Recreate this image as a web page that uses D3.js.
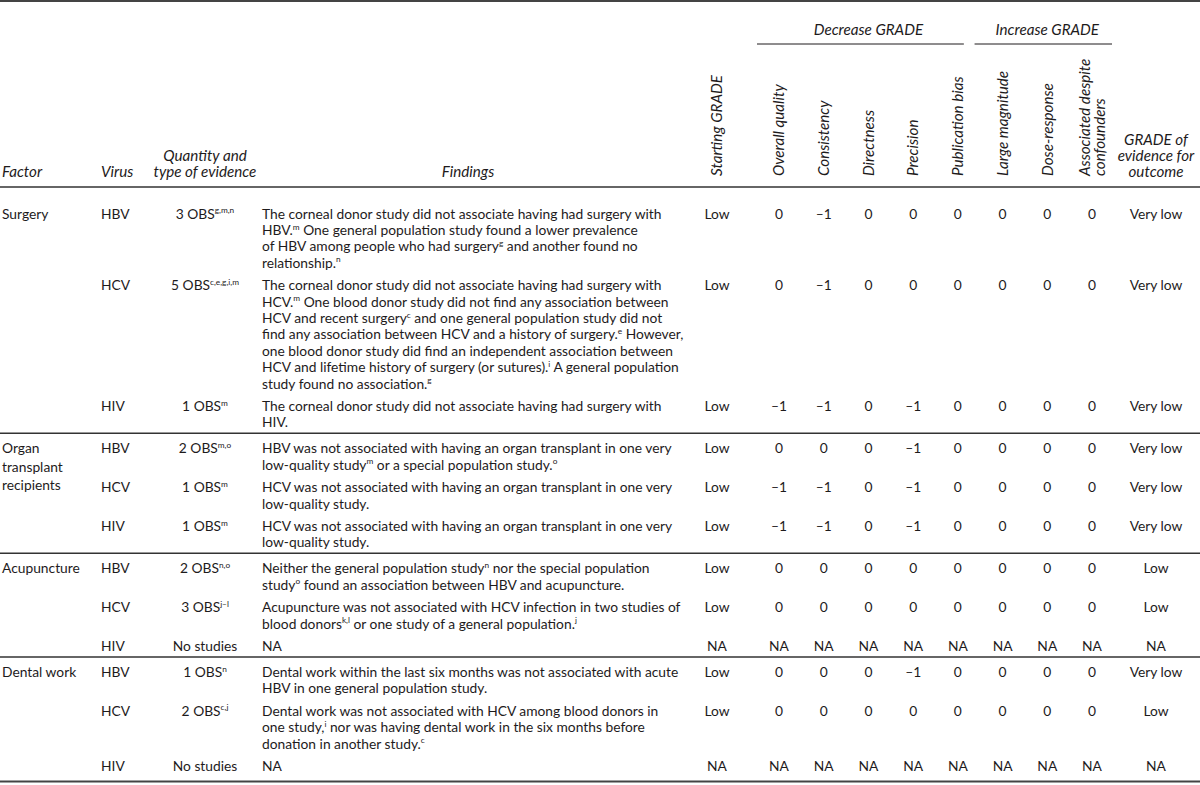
<!DOCTYPE html>
<html><head><meta charset="utf-8">
<script src="https://cdn.jsdelivr.net/npm/d3@7/dist/d3.min.js"></script>
<style>
html,body{margin:0;padding:0;background:#fff;}
svg{display:block;}
text{font-family:Lato,"Open Sans",sans-serif;fill:#1e1b1c;}
</style></head><body>
<svg id="chart" width="1200" height="785"></svg>
<script>
// ---------- DATA ----------
const factorLabels = [["Surgery"], ["Organ", "transplant", "recipients"], ["Acupuncture"], ["Dental work"]];
const viruses = ["HBV", "HCV", "HIV"];
const evidence = [
  "3 OBS^{g,m,n}", "5 OBS^{c,e,g,i,m}", "1 OBS^{m}",
  "2 OBS^{m,o}", "1 OBS^{m}", "1 OBS^{m}",
  "2 OBS^{n,o}", "3 OBS^{j–l}", "No studies",
  "1 OBS^{n}", "2 OBS^{c,j}", "No studies"
];
const findings = [
  ["The corneal donor study did not associate having had surgery with",
   "HBV.^{m} One general population study found a lower prevalence",
   "of HBV among people who had surgery^{g} and another found no",
   "relationship.^{n}"],
  ["The corneal donor study did not associate having had surgery with",
   "HCV.^{m} One blood donor study did not find any association between",
   "HCV and recent surgery^{c} and one general population study did not",
   "find any association between HCV and a history of surgery.^{e} However,",
   "one blood donor study did find an independent association between",
   "HCV and lifetime history of surgery (or sutures).^{i} A general population",
   "study found no association.^{g}"],
  ["The corneal donor study did not associate having had surgery with",
   "HIV."],
  ["HBV was not associated with having an organ transplant in one very",
   "low-quality study^{m} or a special population study.^{o}"],
  ["HCV was not associated with having an organ transplant in one very",
   "low-quality study."],
  ["HCV was not associated with having an organ transplant in one very",
   "low-quality study."],
  ["Neither the general population study^{n} nor the special population",
   "study^{o} found an association between HBV and acupuncture."],
  ["Acupuncture was not associated with HCV infection in two studies of",
   "blood donors^{k,l} or one study of a general population.^{j}"],
  ["NA"],
  ["Dental work within the last six months was not associated with acute",
   "HBV in one general population study."],
  ["Dental work was not associated with HCV among blood donors in",
   "one study,^{i} nor was having dental work in the six months before",
   "donation in another study.^{c}"],
  ["NA"]
];
const startingGrade = ["Low","Low","Low","Low","Low","Low","Low","Low","NA","Low","Low","NA"];
const ratingColumns = [["Overall quality"], ["Consistency"], ["Directness"], ["Precision"], ["Publication bias"],
                       ["Large magnitude"], ["Dose-response"], ["Associated despite", "confounders"]];
const ratings = [
  [0, -1, 0, 0, 0, 0, 0, 0],
  [0, -1, 0, 0, 0, 0, 0, 0],
  [-1, -1, 0, -1, 0, 0, 0, 0],
  [0, 0, 0, -1, 0, 0, 0, 0],
  [-1, -1, 0, -1, 0, 0, 0, 0],
  [-1, -1, 0, -1, 0, 0, 0, 0],
  [0, 0, 0, 0, 0, 0, 0, 0],
  [0, 0, 0, 0, 0, 0, 0, 0],
  [null, null, null, null, null, null, null, null],
  [0, 0, 0, -1, 0, 0, 0, 0],
  [0, 0, 0, 0, 0, 0, 0, 0],
  [null, null, null, null, null, null, null, null]
];
const outcomeGrade = ["Very low","Very low","Very low","Very low","Very low","Very low","Low","Low","NA","Very low","Low","NA"];
const headerGroups = [{label: "Decrease GRADE", from: 0, to: 4}, {label: "Increase GRADE", from: 5, to: 7}];
const headerLeft = {factor: "Factor", virus: "Virus", evidence: ["Quantity and", "type of evidence"], findings: "Findings",
                    start: "Starting GRADE", outcome: ["GRADE of", "evidence for", "outcome"]};

// ---------- LAYOUT ----------
const svg = d3.select("#chart");
const ink = "#1e1b1c";
const refLine = findings[0][0];
const probe = svg.append("text").attr("font-size", 13).text(refLine);
const fs = Math.max(11, Math.min(15, 13 * 400 / probe.node().getComputedTextLength()));
probe.remove();
const hfs = fs * 1.1;
const supFs = fs * 0.6;
const L = 16.4, rowPad = 6, sepGap = 10.5, afterSep = 15.5, bottomGap = 15;
const base = fs * 0.34;

const x = {factor: 2, virus: 101, evidence: 205, findings: 262, start: 717, outcome: 1156};
const xr = d3.scalePoint().domain(d3.range(ratingColumns.length)).range([779, 1092]);
const groupRulePad = [[22, 6], [28, 20]];

const rows = [];
const seps = [];
let y = 214;
factorLabels.forEach((f, g) => {
  viruses.forEach((v, k) => {
    const i = g * 3 + k;
    const n = findings[i].length;
    rows.push({i, g, k, y});
    if (k < viruses.length - 1) y += n * L + rowPad;
    else {
      const last = g === factorLabels.length - 1;
      const s = last ? y + bottomGap : y + (n - 1) * L + sepGap;
      seps.push(s);
      y = s + afterSep;
    }
  });
});

function rich(sel, str) {
  const parts = str.split(/\^\{([^}]*)\}/);
  let shifted = false;
  parts.forEach((p, j) => {
    if (!p) return;
    const t = sel.append("tspan").text(p);
    if (j % 2 === 1) { t.attr("font-size", supFs).attr("dy", -fs * 0.4); shifted = true; }
    else if (shifted) { t.attr("dy", fs * 0.4); shifted = false; }
  });
}

// ---------- RULES ----------
const lastSep = seps.pop();
svg.append("line").attr("x1", 0).attr("x2", 1200).attr("y1", 1).attr("y2", 1).attr("stroke", "#444").attr("stroke-width", 2);
svg.append("line").attr("x1", 0).attr("x2", 1200).attr("y1", 187).attr("y2", 187).attr("stroke", "#333").attr("stroke-width", 1.5);
svg.selectAll("line.sep").data(seps).join("line").attr("class", "sep")
  .attr("x1", 0).attr("x2", 1200).attr("y1", d => d).attr("y2", d => d).attr("stroke", "#333").attr("stroke-width", 1.5);
svg.append("line").attr("x1", 0).attr("x2", 1200).attr("y1", lastSep).attr("y2", lastSep).attr("stroke", "#444").attr("stroke-width", 2);

// ---------- HEADER ----------
const hdr = svg.append("g").attr("font-style", "italic").attr("font-size", hfs);
const hb = hfs * 0.34;
hdr.append("text").attr("x", x.factor).attr("y", 172 + hb).text(headerLeft.factor);
hdr.append("text").attr("x", x.virus).attr("y", 172 + hb).text(headerLeft.virus);
headerLeft.evidence.forEach((t, j, a) => hdr.append("text").attr("x", x.evidence).attr("text-anchor", "middle")
  .attr("y", 172 - (a.length - 1 - j) * 16 + hb).text(t));
hdr.append("text").attr("x", 468).attr("y", 172 + hb).attr("text-anchor", "middle").text(headerLeft.findings);
headerLeft.outcome.forEach((t, j, a) => hdr.append("text").attr("x", x.outcome).attr("text-anchor", "middle")
  .attr("y", 172 - (a.length - 1 - j) * 16 + hb).text(t));
function rot(cx, t) {
  hdr.append("text").attr("transform", `translate(${cx},176) rotate(-90)`).attr("dy", "0.35em").text(t);
}
rot(x.start, headerLeft.start);
ratingColumns.forEach((lines, c) => {
  lines.forEach((t, j) => rot(xr(c) + (j - (lines.length - 1) / 2) * 15, t));
});
headerGroups.forEach((gp, gi) => {
  const x1 = xr(gp.from) - groupRulePad[gi][0], x2 = xr(gp.to) + groupRulePad[gi][1];
  svg.append("line").attr("x1", x1).attr("x2", x2).attr("y1", 44).attr("y2", 44).attr("stroke", ink).attr("stroke-width", 1);
  hdr.append("text").attr("x", (xr(gp.from) + xr(gp.to)) / 2).attr("y", 30 + hb).attr("text-anchor", "middle").text(gp.label);
});

// ---------- BODY ----------
const body = svg.append("g").attr("font-size", fs);
factorLabels.forEach((lines, g) => {
  const r0 = rows.find(r => r.g === g);
  lines.forEach((t, j) => body.append("text").attr("x", x.factor).attr("y", r0.y + j * 18.5 + base).text(t));
});
rows.forEach(r => {
  const i = r.i;
  body.append("text").attr("x", x.virus).attr("y", r.y + base).text(viruses[r.k]);
  rich(body.append("text").attr("x", x.evidence).attr("y", r.y + base).attr("text-anchor", "middle"), evidence[i]);
  findings[i].forEach((ln, j) => rich(body.append("text").attr("x", x.findings).attr("y", r.y + j * L + base), ln));
  body.append("text").attr("x", x.start).attr("y", r.y + base).attr("text-anchor", "middle").text(startingGrade[i]);
  ratings[i].forEach((v, c) => body.append("text").attr("x", xr(c)).attr("y", r.y + base).attr("text-anchor", "middle")
    .text(v === null ? "NA" : (v < 0 ? "\u2013" + Math.abs(v) : String(v))));
  body.append("text").attr("x", x.outcome).attr("y", r.y + base).attr("text-anchor", "middle").text(outcomeGrade[i]);
});
</script>
</body></html>
